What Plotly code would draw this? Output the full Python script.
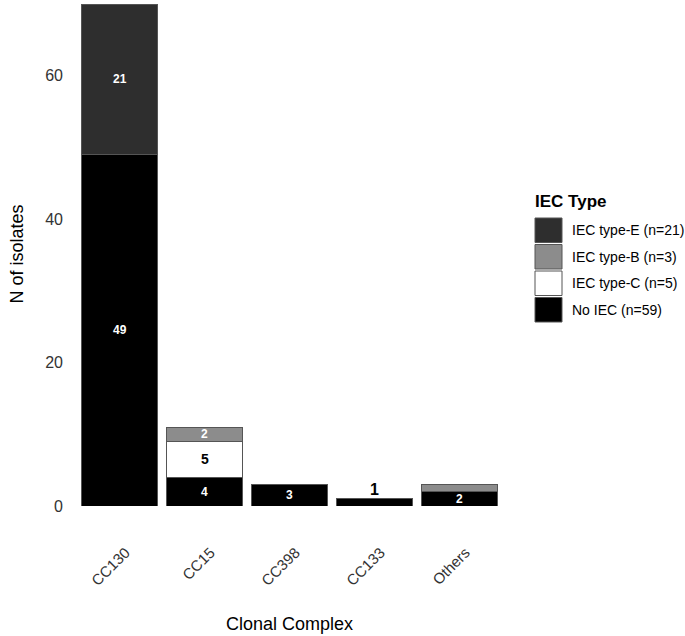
import plotly.graph_objects as go

categories = ["CC130", "CC15", "CC398", "CC133", "Others"]
series_names = ["No IEC", "IEC type-C", "IEC type-B", "IEC type-E"]
no_iec = [49, 4, 3, 1, 2]
type_c = [0, 5, 0, 0, 0]
type_b = [0, 2, 0, 0, 1]
type_e = [21, 0, 0, 0, 0]
values = [no_iec, type_c, type_b, type_e]
colors = ["#000000", "#ffffff", "#8c8c8c", "#2e2e2e"]
legend_labels = ["No IEC (n=59)", "IEC type-C (n=5)", "IEC type-B (n=3)", "IEC type-E (n=21)"]
# labels shown on the segments (None = not shown); "above" marks labels drawn above the bar
seg_labels = [
    ["49", "4", "3", "1", "2"],
    [None, "5", None, None, None],
    [None, "2", None, None, None],
    ["21", None, None, None, None],
]
label_style = [
    ["w", "w", "w", "above", "w"],
    [None, "k", None, None, None],
    [None, "w", None, None, None],
    ["w", None, None, None, None],
]

fig = go.Figure()
for name, vals, col in zip(series_names, values, colors):
    fig.add_trace(go.Bar(
        x=categories, y=vals, name=name, marker_color=col,
        marker_line=dict(color="#555555", width=1), showlegend=False,
    ))

annotations = []
base = [0] * len(categories)
for si, vals in enumerate(values):
    for ci, v in enumerate(vals):
        lab = seg_labels[si][ci]
        st = label_style[si][ci]
        if lab is not None and v > 0:
            if st == "above":
                annotations.append(dict(x=categories[ci], y=base[ci] + v, text="<b>%s</b>" % lab,
                                        showarrow=False, yanchor="bottom", yshift=-1,
                                        font=dict(size=16, color="#000000")))
            elif st == "k":
                annotations.append(dict(x=categories[ci], y=base[ci] + v / 2, text="<b>%s</b>" % lab,
                                        showarrow=False, font=dict(size=14, color="#000000")))
            else:
                annotations.append(dict(x=categories[ci], y=base[ci] + v / 2, text="<b>%s</b>" % lab,
                                        showarrow=False, font=dict(size=12, color="#ffffff")))
        base[ci] += v

# custom legend (top to bottom: E, B, C, No IEC)
shapes = []
box_x0, box_x1 = 535, 562
top = 217
h = 26.5
for k, idx in enumerate([3, 2, 1, 0]):
    y0 = top + k * h
    shapes.append(dict(type="rect", xref="paper", yref="paper",
                       x0=(box_x0 - 77) / 425, x1=(box_x1 - 77) / 425,
                       y0=(506 - (y0 + 1)) / 504, y1=(506 - (y0 + h - 1)) / 504,
                       fillcolor=colors[idx], line=dict(color="#555555", width=1)))
    annotations.append(dict(xref="paper", yref="paper", x=(570 - 77) / 425,
                            y=(506 - (y0 + h / 2)) / 504, text=legend_labels[idx],
                            showarrow=False, xanchor="left", yanchor="middle",
                            font=dict(size=14, color="#000000")))
annotations.append(dict(xref="paper", yref="paper", x=(533 - 77) / 425, y=(506 - 201) / 504,
                        text="<b>IEC Type</b>", showarrow=False, xanchor="left", yanchor="middle",
                        font=dict(size=17, color="#000000")))

fig.update_layout(
    barmode="stack", bargap=0.1,
    width=685, height=636,
    margin=dict(l=77, r=183, t=2, b=130),
    plot_bgcolor="white", paper_bgcolor="white",
    font=dict(family="Liberation Sans, Arial, sans-serif", color="#000000"),
    annotations=annotations, shapes=shapes,
    xaxis=dict(showgrid=False, showline=False, ticks="", tickangle=-45,
               ticklabelstandoff=34, ticklabelshift=6,
               tickfont=dict(size=15, color="#333333"),
               title=dict(text="Clonal Complex", font=dict(size=18), standoff=29)),
    yaxis=dict(range=[0, 70.3], showgrid=False, showline=False, zeroline=False,
               tickvals=[0, 20, 40, 60], ticks="", ticklabelstandoff=13,
               tickfont=dict(size=16, color="#333333"),
               title=dict(text="N of isolates", font=dict(size=18), standoff=16)),
)

fig.write_html("out.html")
